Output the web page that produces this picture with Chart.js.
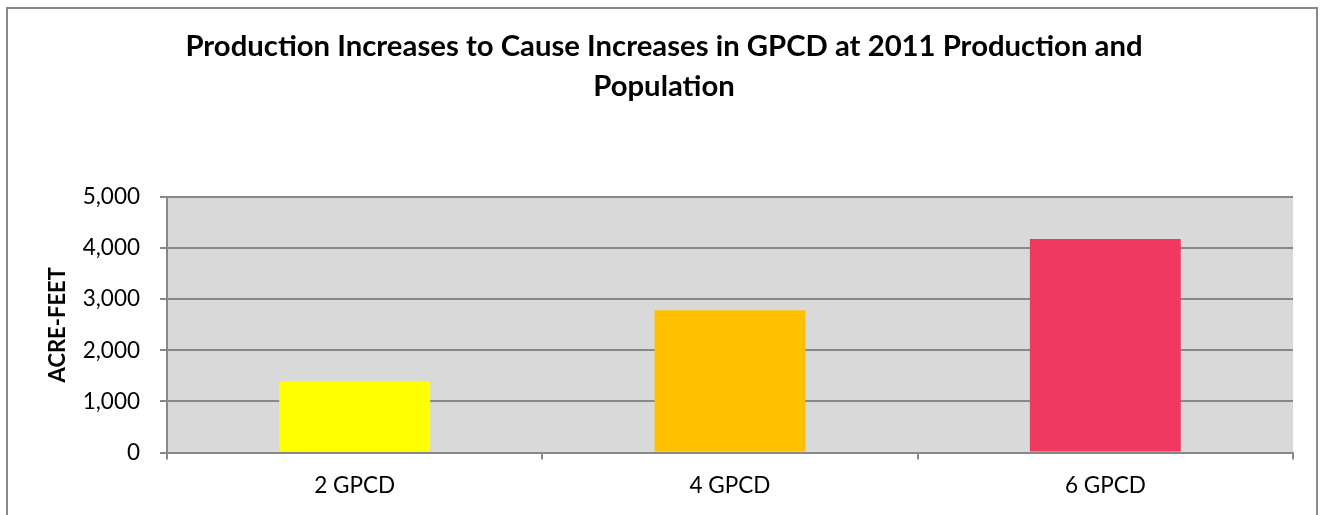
<!DOCTYPE html>
<html>
<head>
<meta charset="utf-8">
<script src="https://cdn.jsdelivr.net/npm/chart.js@4/dist/chart.umd.min.js"></script>
<style>
  html, body { margin: 0; padding: 0; background: #fff; }
  body { width: 1328px; height: 515px; position: relative; overflow: hidden; }
  #frame { position: absolute; left: 6px; top: 7px; width: 1312px; height: 600px; border: 2px solid #888; box-sizing: border-box; }
  #wrap { position: absolute; left: 0; top: 0; width: 1328px; height: 515px; }
</style>
</head>
<body>
<div id="frame"></div>
<div id="wrap"><canvas id="chart" width="1328" height="515"></canvas></div>
<script>
const categories = ['2 GPCD', '4 GPCD', '6 GPCD'];
const acreFeet = [1392, 2784, 4176];
const barColors = ['#ffff00', '#ffc000', '#f0395e'];
const titleLines = ['Production Increases to Cause Increases in GPCD at 2011 Production and', 'Population'];

// grey plot background
const plotBackground = {
  id: 'plotBackground',
  beforeDraw(chart) {
    const a = chart.chartArea;
    const ctx = chart.ctx;
    ctx.save();
    ctx.fillStyle = '#d9d9d9';
    ctx.fillRect(a.left, a.top, a.right - a.left, a.bottom - a.top);
    ctx.restore();
  }
};

const ctx = document.getElementById('chart').getContext('2d');
new Chart(ctx, {
  type: 'bar',
  data: {
    labels: categories,
    datasets: [{
      data: acreFeet,
      backgroundColor: barColors,
      borderWidth: 0,
      barPercentage: 0.402,
      categoryPercentage: 1
    }]
  },
  options: {
    responsive: false,
    animation: false,
    layout: { padding: 0 },
    plugins: {
      legend: { display: false },
      tooltip: { enabled: false },
      title: {
        display: true,
        text: titleLines,
        color: '#000',
        font: { family: 'Lato', size: 29.3, weight: 'bold', lineHeight: '40px' },
        padding: { top: 27, bottom: 90 }
      }
    },
    scales: {
      x: {
        grid: { offset: true, drawOnChartArea: false, drawTicks: true, tickLength: 7, color: '#888', lineWidth: 2 },
        border: { color: '#888', width: 2 },
        ticks: { color: '#000', font: { family: 'Lato', size: 22.5 }, padding: 13 },
        afterFit(scale) { scale.height = 62.5; }
      },
      y: {
        min: 0,
        max: 5000,
        ticks: {
          stepSize: 1000,
          color: '#000',
          font: { family: 'Lato', size: 22.5 },
          padding: 20,
          callback: v => v.toLocaleString('en-US')
        },
        grid: { color: '#888', lineWidth: 2, tickLength: 7 },
        border: { color: '#888', width: 2 },
        title: {
          display: true,
          text: 'ACRE-FEET',
          color: '#000',
          font: { family: 'Lato', size: 22, weight: 'bold', lineHeight: 1.2 },
          padding: { top: 45, bottom: 0 }
        },
        afterFit(scale) { scale.width = 167; }
      },
      // empty right-hand spacer so the title stays centred on the whole canvas
      spacer: {
        type: 'linear',
        position: 'right',
        ticks: { display: false },
        grid: { display: false },
        border: { display: false },
        afterFit(scale) { scale.width = 35; }
      }
    }
  },
  plugins: [plotBackground]
});
</script>
</body>
</html>
